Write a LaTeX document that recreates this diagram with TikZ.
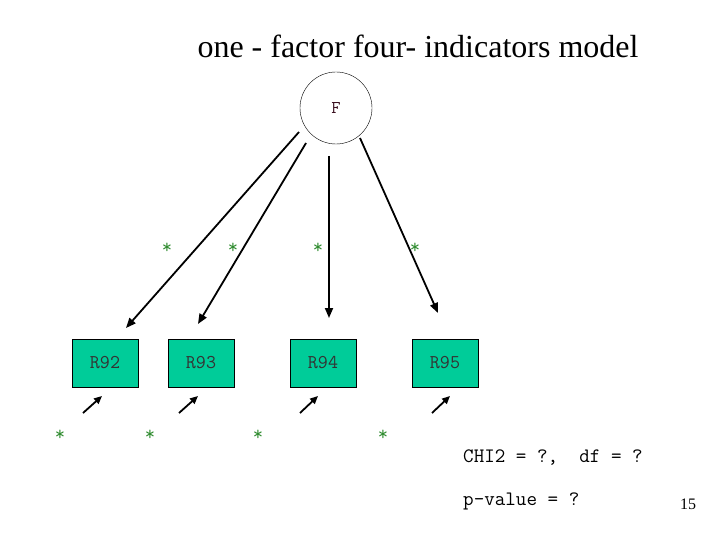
\documentclass[tikz,border=0pt]{standalone}
\usepackage{fontspec}
\setmainfont{Liberation Serif}
\usepackage{xcolor}
\definecolor{boxgreen}{HTML}{00CC99}
\definecolor{stargreen}{HTML}{2E8B2E}
\definecolor{factortext}{HTML}{3A1020}
\usetikzlibrary{arrows.meta, positioning}

\begin{document}
\begin{tikzpicture}[x=1pt, y=-1pt,
    indicator/.style={draw, fill=boxgreen, minimum width=66pt, minimum height=48pt, font=\ttfamily\fontsize{19.5}{21}\selectfont, text=black!80},
    factor/.style={draw, circle, minimum size=72pt, font=\ttfamily\fontsize{18}{20}\selectfont, text=factortext},
    loading/.style={-{Triangle[length=10pt, width=8pt]}, line width=1.8pt},
    errarrow/.style={-{Triangle[length=8pt, width=7pt]}, line width=1.8pt},
    starlabel/.style={text=stargreen, font=\ttfamily\fontsize{20}{22}\selectfont, inner sep=0pt},
    fitlabel/.style={anchor=west, font=\ttfamily\fontsize{20.5}{22}\selectfont, inner sep=0pt}
]
    \useasboundingbox (0,0) rectangle (720,540);

    \node[font=\fontsize{32}{36}\selectfont] (title) at (418,46) {one - factor four- indicators model};

    \node[factor] (F) at (336,108) {F};

    \node[indicator] (r92) at (105,363) {R92};
    \node[indicator] (r93) at (201,363) {R93};
    \node[indicator] (r94) at (323,363) {R94};
    \node[indicator] (r95) at (445,363) {R95};

    % loadings
    \coordinate (l1s) at (299,132); \coordinate (l1e) at (126,328);
    \coordinate (l2s) at (306,143); \coordinate (l2e) at (198,324);
    \coordinate (l3s) at (329,156); \coordinate (l3e) at (329,318);
    \coordinate (l4s) at (360,138); \coordinate (l4e) at (438,313);
    \draw[loading] (l1s) -- (l1e);
    \draw[loading] (l2s) -- (l2e);
    \draw[loading] (l3s) -- (l3e);
    \draw[loading] (l4s) -- (l4e);

    \node[starlabel] (s1) at (167,248) {*};
    \node[starlabel] (s2) at (233,248) {*};
    \node[starlabel] (s3) at (318,248) {*};
    \node[starlabel] (s4) at (415,248) {*};

    % errors
    \coordinate (e1s) at (83,413);  \coordinate (e1e) at (102,396);
    \coordinate (e2s) at (179,413); \coordinate (e2e) at (198,396);
    \coordinate (e3s) at (300,413); \coordinate (e3e) at (318,396);
    \coordinate (e4s) at (432,413); \coordinate (e4e) at (450,396);
    \draw[errarrow] (e1s) -- (e1e);
    \draw[errarrow] (e2s) -- (e2e);
    \draw[errarrow] (e3s) -- (e3e);
    \draw[errarrow] (e4s) -- (e4e);

    \node[starlabel] (v1) at (60,435) {*};
    \node[starlabel] (v2) at (150,435) {*};
    \node[starlabel] (v3) at (258,435) {*};
    \node[starlabel] (v4) at (383,435) {*};

    % Labels
    \node[fitlabel] (chi) at (463,458) {CHI2 = ?,~~df = ?};
    \node[fitlabel] (pval) at (463,501) {p-value = ?};
    \node[font=\fontsize{16}{18}\selectfont] (page) at (688,504) {15};
\end{tikzpicture}
\end{document}
